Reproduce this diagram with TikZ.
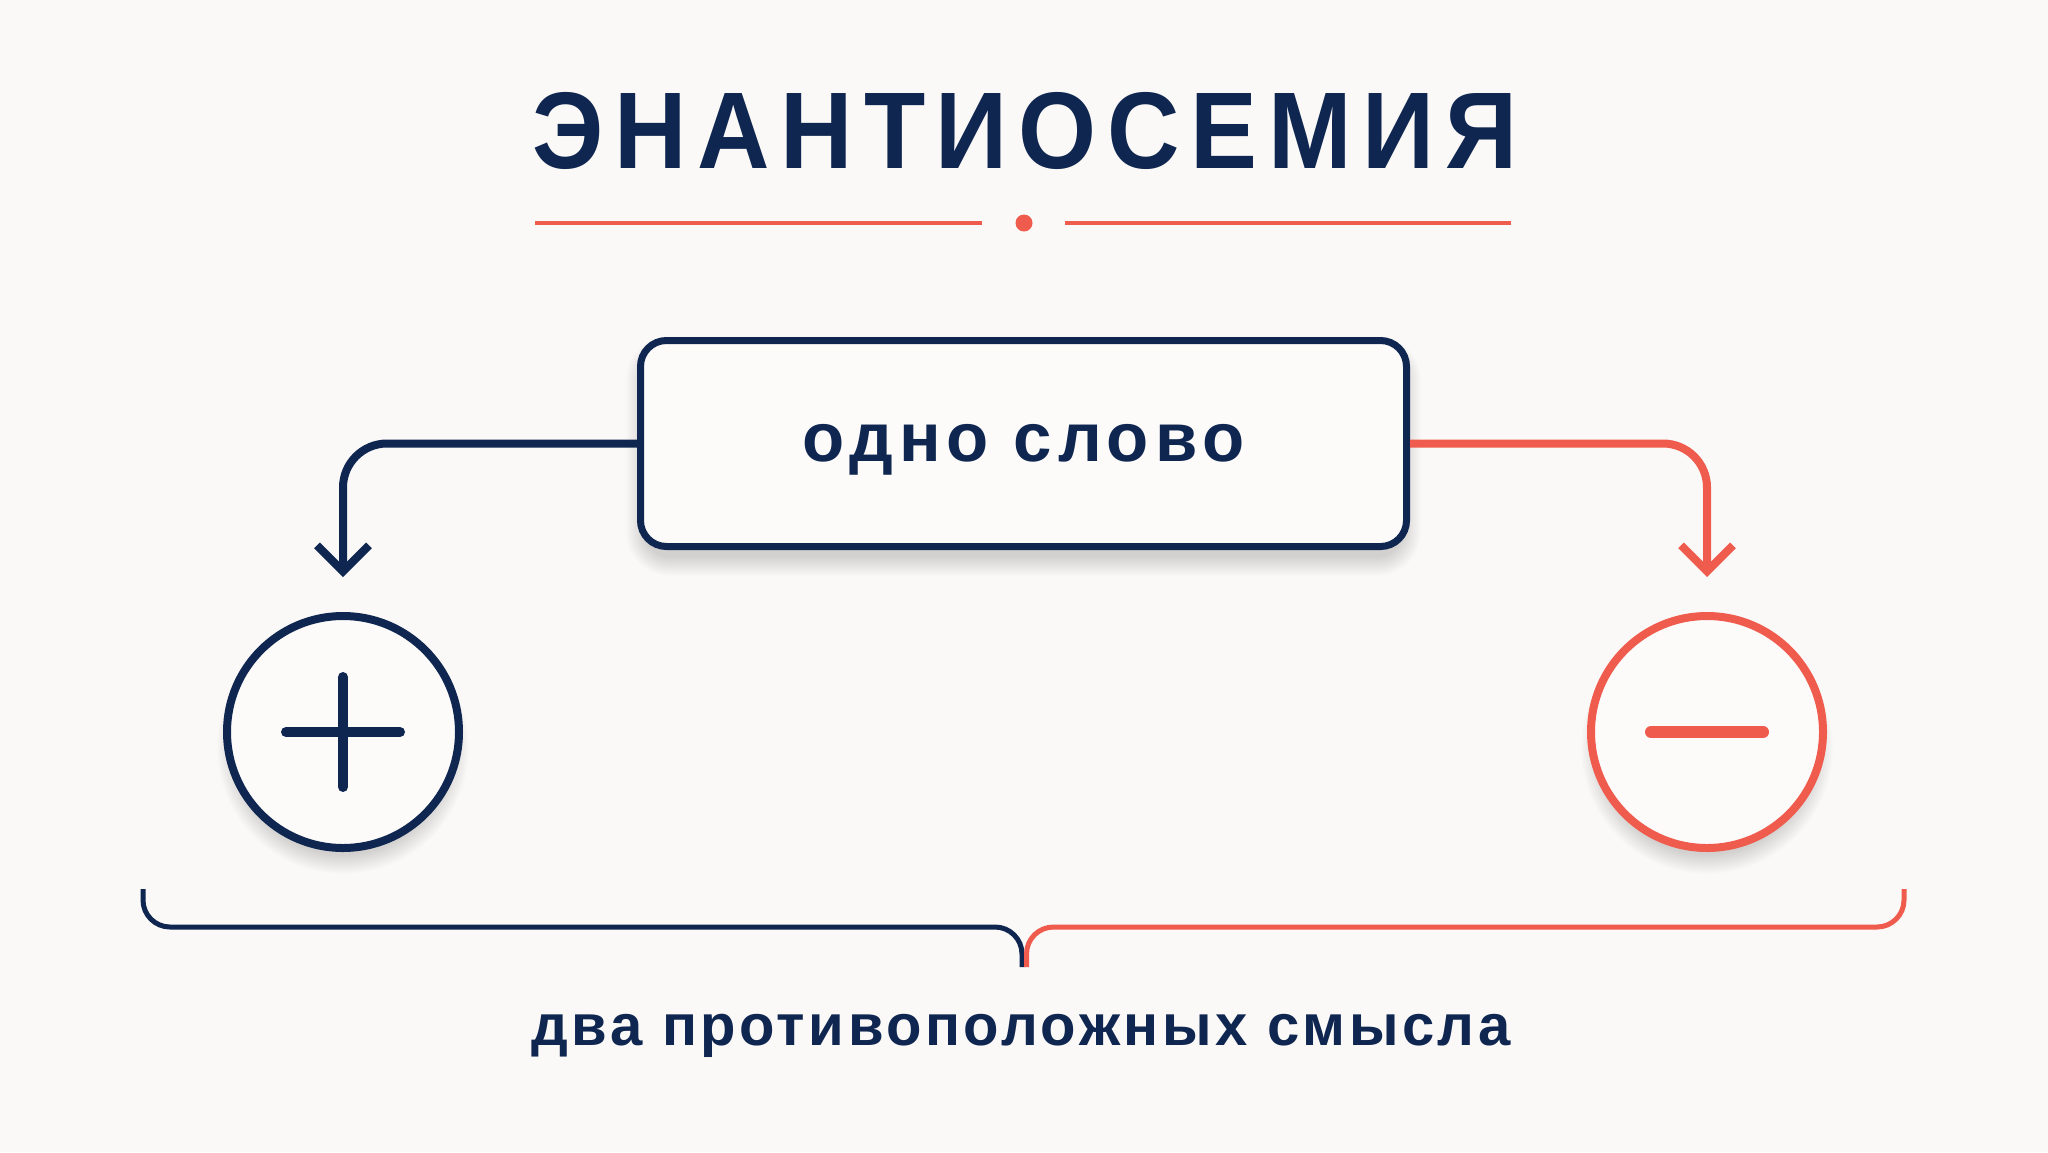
\documentclass[tikz,border=0pt]{standalone}
\usepackage{fontspec}
\setmainfont{Liberation Sans}
\newfontfamily\titlefont[FakeStretch=0.92,LetterSpace=9.8]{Liberation Sans}
\newfontfamily\boxfont[LetterSpace=8.5]{Liberation Sans}
\newfontfamily\capfont[LetterSpace=6]{Liberation Sans}
\usetikzlibrary{arrows.meta}
\definecolor{navy}{HTML}{0F2650}
\definecolor{coral}{HTML}{EF5B4C}
\definecolor{paper}{HTML}{FAF9F7}
\definecolor{card}{HTML}{FCFBFA}
\tikzset{
  shadowstep/.style={black, opacity=0.0065},
  cardbox/.style={draw=navy, line width=7pt, rounded corners=26pt, fill=card, inner sep=0pt},
  ring/.style={circle, line width=8pt, fill=card, inner sep=0pt, minimum size=232pt},
  link/.style={line width=8pt, rounded corners=44pt, -{Straight Barb[length=26pt,width=52pt]}, shorten >=35pt},
  brace/.style={line width=5pt, rounded corners=27pt},
  glyph/.style={line cap=round}
}
\begin{document}
\begin{tikzpicture}[x=1pt,y=-1pt]
\fill[paper] (0,0) rectangle (2048,1152);
\useasboundingbox (0,0) rectangle (2048,1152);

% soft shadows
\foreach \i in {1,...,20} {
  \fill[shadowstep, rounded corners={24pt+\i pt}] ({646-\i},{356-\i}) rectangle ({1401+\i},{556+\i});
  \fill[shadowstep] (343,748) circle ({106+\i});
  \fill[shadowstep] (1707,748) circle ({106+\i});
}

% title
\node[text=navy, font=\titlefont\bfseries\fontsize{109}{120}\selectfont, anchor=base, inner sep=0pt] (title) at (1025,168) {ЭНАНТИОСЕМИЯ};

% divider
\node[circle, fill=coral, inner sep=0pt, minimum size=17pt] (dot) at (1024,223) {};
\coordinate (dl1) at (535,223);
\coordinate (dl2) at (982,223);
\coordinate (dr1) at (1065,223);
\coordinate (dr2) at (1511,223);
\draw[coral, line width=3.5pt] (dl1) -- (dl2);
\draw[coral, line width=3.5pt] (dr1) -- (dr2);

% word box
\node[cardbox, minimum width=766pt, minimum height=206pt, text=navy, text height=36pt, text depth=0pt,
      font=\boxfont\bfseries\fontsize{69}{80}\selectfont] (box) at (1023.5,443.5) {одно слово};

% circles
\node[ring, draw=navy] (plus) at (343,732) {};
\node[ring, draw=coral] (minus) at (1707,732) {};
\draw[navy, line width=10pt, glyph] ([xshift=-57pt]plus.center) -- ([xshift=57pt]plus.center);
\draw[navy, line width=10pt, glyph] ([yshift=-55pt]plus.center) -- ([yshift=55pt]plus.center);
\draw[coral, line width=12pt, glyph] ([xshift=-56pt]minus.center) -- ([xshift=56pt]minus.center);

% connectors
\draw[navy, link] (box.west) -| (plus.north);
\draw[coral, link] (box.east) -| (minus.north);

% brace
\draw[navy, brace] (143,889) -- (143,927) -- (1022,927) -- (1022,967);
\draw[coral, brace] (1904,889) -- (1904,927) -- (1026.5,927) -- (1026.5,967);

% caption
\node[text=navy, font=\capfont\bfseries\fontsize{58}{68}\selectfont, anchor=base, inner sep=0pt] (caption) at (1021,1045) {два противоположных смысла};
\end{tikzpicture}
\end{document}
